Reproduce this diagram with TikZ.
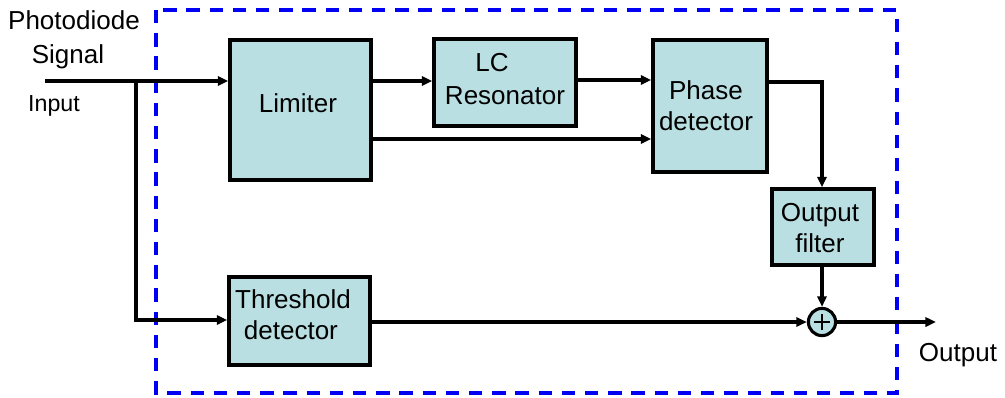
\documentclass[tikz,border=0pt]{standalone}
\usepackage{fontspec}
\setmainfont{Liberation Sans}
\usetikzlibrary{arrows.meta}
\definecolor{boxfill}{HTML}{B9DFE2}
\definecolor{dashblue}{HTML}{0000F5}
\begin{document}
\begin{tikzpicture}[x=0.025cm,y=-0.025cm,
  blk/.style={draw=black,line width=2.4pt,fill=boxfill,inner sep=0pt},
  arr/.style={line width=2.2pt,-{Triangle[length=7.5pt,width=6.5pt]}},
  lbl/.style={inner sep=0pt,font=\fontsize{18.5}{22}\selectfont},
  mlbl/.style={lbl,align=center}]
\useasboundingbox (0,0) rectangle (1005,397);
% dashed enclosure
\draw[dashblue,line width=2.5pt,dash pattern=on 9.5pt off 7pt] (156,10) rectangle (897,393);
% blocks
\node[blk,minimum width=3.525cm,minimum height=3.5cm] (lim) at (300.5,110) {};
\node[blk,minimum width=3.55cm,minimum height=2.175cm] (lc) at (505,82.5) {};
\node[blk,minimum width=2.85cm,minimum height=3.3cm] (ph) at (710,106) {};
\node[blk,minimum width=2.55cm,minimum height=1.9cm] (of) at (823,227) {};
\node[blk,minimum width=3.525cm,minimum height=2.2cm] (th) at (299.5,321) {};
\node[circle,draw=black,line width=2.2pt,fill=boxfill,minimum size=0.68cm,inner sep=0pt] (sum) at (822,322) {};
\draw[line width=1.6pt] ([xshift=-5.8pt]sum.center) -- ([xshift=5.8pt]sum.center)
  ([yshift=-5.8pt]sum.center) -- ([yshift=5.8pt]sum.center);
% block labels
\node[lbl] (limt) at (298,103) {Limiter};
\node[mlbl,font=\fontsize{18.5}{23.5}\selectfont] (lct) at (505,79.5) {LC\hspace*{18.5pt}\\Resonator};
\node[mlbl] (pht) at (706,105.5) {Phase\\detector};
\node[mlbl] (oft) at (820,228.5) {Output\\filter};
\node[mlbl] (tht) at (293,315) {Threshold\\\hspace*{-3pt}detector};
% labels
\node[lbl] (pd) at (74,20) {Photodiode};
\node[lbl] (sg) at (68,57) {Signal};
\node[lbl,font=\fontsize{16.5}{20}\selectfont] (inp) at (54,106) {Input};
\node[lbl] (outl) at (958,355) {Output};
% connectors
\coordinate (in) at (45,81);
\coordinate (br) at (136,81);
\coordinate (out) at (936,322);
\draw[arr] (in) -- (lim.west |- in);
\draw[arr] (br) |- (th.west |- 0,320);
\draw[arr] (lim.east |- 0,81) -- (lc.west |- 0,81);
\draw[arr] (lc.east |- 0,80) -- (ph.west |- 0,80);
\draw[arr] (lim.east |- 0,139) -- (ph.west |- 0,139);
\draw[arr] (ph.east |- 0,82) -| (of.north -| sum);
\draw[arr] (of.south -| sum) -- (sum.north);
\draw[arr] (th.east |- sum) -- (sum.west);
\draw[arr] (sum.east) -- (out);
\end{tikzpicture}
\end{document}
